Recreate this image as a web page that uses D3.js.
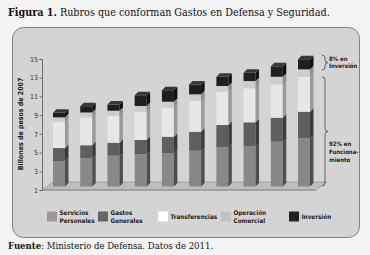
<!DOCTYPE html>
<html><head><meta charset="utf-8">
<script src="https://cdn.jsdelivr.net/npm/d3@7"></script>
<style>
html,body{margin:0;padding:0;background:#f4f4f4;}
svg{display:block;}
</style></head>
<body><svg id="c" width="370" height="255"></svg>
<script>
// ---- data ----
const categories = ["2002","2003","2004","2005","2006","2007","2008","2009","2010","2011"];
const seriesNames = ["Servicios Personales","Gastos Generales","Transferencias","Operación Comercial","Inversión"];
const serviciosPersonales = [3.72,4.04,4.29,4.44,4.55,4.82,5.19,5.33,5.79,6.15];
const gastosGenerales     = [1.39,1.37,1.39,1.53,1.77,2.03,2.38,2.53,2.56,2.84];
const transferencias      = [2.78,2.98,2.85,3.02,3.10,3.32,3.56,3.63,3.57,3.74];
const operacionComercial  = [0.50,0.52,0.57,0.61,0.64,0.68,0.61,0.78,0.81,0.79];
const inversion           = [0.48,0.67,0.66,1.15,1.23,1.05,0.98,0.88,1.12,1.08];
const yTicks = [1,3,5,7,9,11,13,15];

const seriesValues = [serviciosPersonales,gastosGenerales,transferencias,operacionComercial,inversion];
const keys = ["s0","s1","s2","s3","s4"];
const table = categories.map((c,i)=>{const o={cat:c}; keys.forEach((k,j)=>o[k]=seriesValues[j][i]); return o;});

const front = ["#888888","#5f5f5f","#e7e7e7","#cdcdcd","#221e1f"];
const side  = ["#4e4e4e","#3a3a3a","#9a9a9a","#8e8e8e","#111111"];
const legendFill = ["#999999","#666666","#ffffff","#c2c2c2","#231f20"];

const svg = d3.select("#c");
const serif = "DejaVu Serif Condensed, DejaVu Serif, serif";
// title
const t = svg.append("text").attr("x",8).attr("y",15.5)
  .attr("font-family",serif).attr("font-size",10.7).attr("fill","#111");
t.append("tspan").attr("font-weight","bold").text("Figura 1.");
t.append("tspan").text(" Rubros que conforman Gastos en Defensa y Seguridad.");

// panel
svg.append("rect").attr("x",12.5).attr("y",27.5).attr("width",347).attr("height",210)
  .attr("rx",11).attr("fill","#d4d4d4").attr("stroke","#808080").attr("stroke-width",1);

// scales
const y = d3.scaleLinear().domain([1,15]).range([190,59]).clamp(true);
const x = d3.scaleBand().domain(categories).range([53,310]).paddingInner(0.56).paddingOuter(0);
const dx = 3.5, dy = 3.5, lift = 3.5;

// floor
const fl = svg.append("g");
fl.append("path").attr("d",`M42,190 L316,190 L327,182 L53,182 Z`).attr("fill","#bdbdbd").attr("stroke","#9a9a9a").attr("stroke-width",0.8);
fl.append("path").attr("d",`M42,190 L316,190`).attr("stroke","#8a8a8a").attr("stroke-width",1);

// axis
const font = "DejaVu Sans Condensed, sans-serif";
const ax = svg.append("g").attr("transform","translate(42,0)")
  .call(d3.axisLeft(y).tickValues(yTicks).tickSize(2.5).tickPadding(1.5).tickFormat(d3.format("d")));
ax.select(".domain").attr("stroke","#555").attr("stroke-width",0.8);
ax.selectAll(".tick line").attr("stroke","#555").attr("stroke-width",0.8);
ax.selectAll(".tick text").attr("font-family",font).attr("font-size",7).attr("fill","#333");

svg.append("text").attr("transform","translate(23,124) rotate(-90)").attr("text-anchor","middle")
  .attr("font-family",font).attr("font-weight","bold").attr("font-size",7).attr("fill","#222")
  .text("Billones de pesos de 2007");

// bars
const stack = d3.stack().keys(keys)(table);
const yb = v => y(v) - lift;
const w = x.bandwidth();
const bars = svg.append("g");
stack.forEach((layer,j)=>{
  const g = bars.append("g");
  layer.forEach((d,i)=>{
    const cx = x(categories[i]);
    const y0 = yb(d[0]), y1 = yb(d[1]);
    g.append("rect").attr("x",cx).attr("y",y1).attr("width",w).attr("height",Math.max(0,y0-y1)).attr("fill",front[j]);
    g.append("path").attr("d",`M${cx+w},${y1} L${cx+w+dx},${y1-dy} L${cx+w+dx},${y0-dy} L${cx+w},${y0} Z`).attr("fill",side[j]);
    if(j===keys.length-1){
      g.append("path").attr("d",`M${cx},${y1} L${cx+dx},${y1-dy} L${cx+w+dx},${y1-dy} L${cx+w},${y1} Z`).attr("fill","#3b3738");
    }
  });
});

// braces & annotations
function brace(xb, ya, yz, tip){
  const ym=(ya+yz)/2;
  return `M${xb-3},${ya} Q${xb},${ya} ${xb},${ya+3} L${xb},${ym-3} Q${xb},${ym} ${xb+tip},${ym} Q${xb},${ym} ${xb},${ym+3} L${xb},${yz-3} Q${xb},${yz} ${xb-3},${yz}`;
}
svg.append("path").attr("d",brace(325,55,70,3)).attr("fill","none").attr("stroke","#333").attr("stroke-width",0.7);
svg.append("path").attr("d",brace(325,77,186,3)).attr("fill","none").attr("stroke","#333").attr("stroke-width",0.7);
const ann = [[329,61,"8% en"],[329,68,"Inversión"],[329,146,"92% en"],[329,154,"Funciona-"],[329,162,"miento"]];
svg.append("g").selectAll("text").data(ann).join("text")
  .attr("x",d=>d[0]).attr("y",d=>d[1]).attr("font-family",font).attr("font-weight","bold").attr("font-size",6).attr("fill","#222").text(d=>d[2]);

// legend
const legend = [
  {x:47,lines:["Servicios","Personales"]},
  {x:98,lines:["Gastos","Generales"]},
  {x:158,lines:["Transferencias"]},
  {x:221,lines:["Operación","Comercial"]},
  {x:289,lines:["Inversión"]}
];
const lg = svg.append("g");
legend.forEach((l,i)=>{
  lg.append("rect").attr("x",l.x).attr("y",211.5).attr("width",10).attr("height",10).attr("fill",legendFill[i]);
  const tx = lg.append("text").attr("x",l.x+12.5).attr("font-family",font).attr("font-weight","bold").attr("font-size",6.3).attr("fill","#222");
  if(l.lines.length===2){
    tx.append("tspan").attr("x",l.x+12.5).attr("y",214.5).text(l.lines[0]);
    tx.append("tspan").attr("x",l.x+12.5).attr("y",222.5).text(l.lines[1]);
  } else {
    tx.attr("y",219).text(l.lines[0]);
  }
});

// source
const s = svg.append("text").attr("x",8).attr("y",248.5).attr("font-family",serif).attr("font-size",9.5).attr("fill","#111");
s.append("tspan").attr("font-weight","bold").text("Fuente");
s.append("tspan").text(": Ministerio de Defensa. Datos de 2011.");
</script></body></html>
